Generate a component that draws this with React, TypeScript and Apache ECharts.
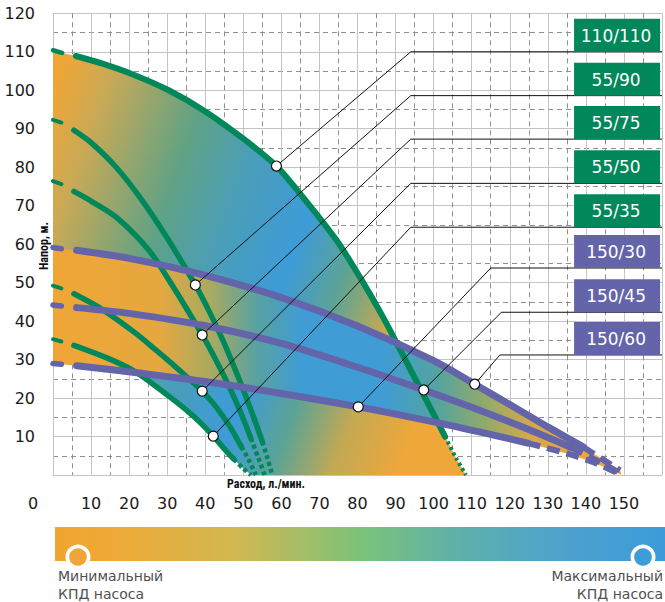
import React, { useEffect, useRef } from "react";
import * as echarts from "echarts";

type P = [number, number];

// ---- Pump curves (flow l/min, head m) ----
const p110Head: P[] = [[0, 110.4], [2.4, 109.7]];
const p110Main: P[] = [[6, 108.9], [13, 106.9], [21, 104.1], [30.4, 100], [40, 94.5], [50, 87.4], [58.7, 80.3], [66, 71.8], [74.5, 61], [81.5, 50], [87, 40.5], [92, 31], [97, 21.5], [103, 10]];
const p110Tail: P[] = [[103, 10], [106, 4.2], [108.5, 0]];

const p90Head: P[] = [[0, 92.3], [2.2, 91.6]];
const p90Main: P[] = [[5.5, 89.6], [10, 86.4], [16.6, 80], [23.4, 71.4], [30, 61.6], [37.4, 49.4], [41, 42.6], [45, 34.2], [49, 24.6], [52.5, 15.6], [55, 8.6]];
const p90Tail: P[] = [[55, 8.6], [56.3, 4.5], [57.6, 0]];

const p75Head: P[] = [[0, 76.4], [2.2, 75.6]];
const p75Main: P[] = [[5.5, 73.7], [10, 71.2], [16.6, 67], [25.2, 58.4], [31.2, 49.5], [39.2, 36.4], [43, 29.5], [46.5, 22.5], [49.5, 15.8], [52, 9.5]];
const p75Tail: P[] = [[52, 9.5], [54, 4.3], [55.6, 0]];

const p50Head: P[] = [[0, 49.2], [2.2, 48.5]];
const p50Main: P[] = [[5.5, 47.1], [13, 43], [21.5, 37], [27, 32.5], [33, 27.4], [39.2, 21.8], [43, 17.5], [46.5, 12.5], [49.5, 7.3]];
const p50Tail: P[] = [[49.5, 7.3], [51.5, 3.8], [53.3, 0]];

const p35Head: P[] = [[0, 35.3], [2.2, 34.7]];
const p35Main: P[] = [[5.5, 33.7], [14, 30.5], [20.8, 27.3], [26, 23.8], [31.2, 19.9], [35.6, 16.4], [38.5, 13.8], [42.1, 10.1], [45, 6.8], [47.5, 4.1]];
const p35Tail: P[] = [[47.5, 4.1], [50, 1.7], [52, 0]];

const p60Head: P[] = [[0, 59.1], [2.2, 58.8]];
const p60Main: P[] = [[6.2, 58.4], [20, 56.3], [40, 51.9], [60, 46.1], [80, 38.7], [100, 29.7], [110.8, 23.6], [120, 18.3], [130, 12.5], [139.3, 7.3]];
const p60Tail: P[] = [[139.3, 7.3], [144.2, 4.2], [149, 1.2]];

const p45Head: P[] = [[0, 44.2], [2.2, 43.9]];
const p45Main: P[] = [[6.2, 43.5], [20, 42], [40, 38.8], [60, 34.2], [80, 28], [97.4, 22.1], [110, 17.6], [125, 11.8], [136, 7.2]];
const p45Tail: P[] = [[136, 7.2], [142, 4.2], [149.2, 0.4]];

const p30Head: P[] = [[0, 29], [2.2, 28.8]];
const p30Main: P[] = [[6.2, 28.4], [22.6, 26.5], [40, 24.3], [60, 21.2], [80.2, 17.7], [100, 13.8], [116, 10.3], [124.7, 8.3]];
const p30Tail: P[] = [[124.7, 8.3], [135, 5.6], [142, 3.3], [149.4, 0]];

// ---- Legend boxes / leaders ----
const boxLabels = ["110/110", "55/90", "55/75", "55/50", "55/35", "150/30", "150/45", "150/60"];
const circlePts: P[] = [[58.7, 80.3], [37.4, 49.4], [39.2, 36.4], [39.2, 21.8], [42.1, 10.1], [80.2, 17.7], [97.4, 22.1], [110.8, 23.6]];
const kneeX = [94, 94, 94, 94, 94, 115, 117.8, 117.4];
const kneeY = [110, 98.6, 87.3, 75.8, 64.4, 53.8, 42.3, 31.2];
const boxLeftX = 136.9;

const GREEN = "#00875A";
const PURPLE = "#6464AA";
const TICK_FONT = "'DejaVu Sans', sans-serif";
const NARROW_FONT = "'Liberation Sans Narrow', 'Roboto Condensed', Roboto, sans-serif";

const join = (...parts: P[][]): P[] => parts.reduce((a, b) => a.concat(b), [] as P[]);

const all110 = join(p110Head, p110Main, p110Tail);
const all35 = join(p35Head, p35Main, p35Tail);
const all60 = join(p60Head, p60Main, p60Tail);
const all30 = join(p30Head, p30Main, p30Tail);

const greenPoly: P[] = [...all110, ...all35.slice().reverse()];
const bandPoly: P[] = [...all60, ...all30.slice().reverse()];

const greenStops = [
  { offset: 0, color: "#F0A636" },
  { offset: 0.11, color: "#C9A956" },
  { offset: 0.32, color: "#5FA285" },
  { offset: 0.46, color: "#4A9EB8" },
  { offset: 0.62, color: "#3D9BD8" },
  { offset: 0.74, color: "#5DA394" },
  { offset: 0.86, color: "#C2A954" },
  { offset: 1, color: "#EFA73A" },
];
const bandStops = [
  { offset: 0, color: "#F0A636" },
  { offset: 0.2, color: "#E5A840" },
  { offset: 0.3, color: "#A6AA62" },
  { offset: 0.38, color: "#5AA2A0" },
  { offset: 0.47, color: "#3F9CD4" },
  { offset: 0.62, color: "#3F9CD4" },
  { offset: 0.72, color: "#52A3A2" },
  { offset: 0.81, color: "#8FAA6C" },
  { offset: 0.9, color: "#D4A84C" },
  { offset: 1, color: "#F0A636" },
];

function polygonSeries(points: P[], gFrom: P, gTo: P, stops: any[], z: number) {
  return {
    type: "custom",
    data: [[0, 0]],
    silent: true,
    clip: false,
    z,
    renderItem: (_params: any, api: any) => {
      const pts = points.map((p) => api.coord(p));
      const a = api.coord(gFrom);
      const b = api.coord(gTo);
      return {
        type: "polygon",
        shape: { points: pts },
        style: {
          fill: new echarts.graphic.LinearGradient(a[0], a[1], b[0], b[1], stops, true),
          stroke: null,
        },
      };
    },
  };
}

function lineSeries(data: P[], color: string, width: number, type: any, z: number, cap = "round") {
  return {
    type: "line",
    data,
    symbol: "none",
    showSymbol: false,
    smooth: 0.3,
    silent: true,
    z,
    lineStyle: { color, width, type, cap },
  };
}

export default function App() {
  const ref = useRef<HTMLDivElement>(null);

  useEffect(() => {
    if (!ref.current) return;
    const chart = echarts.init(ref.current, undefined, { renderer: "svg" });

    const curveDefs = [
      { h: p110Head, m: p110Main, t: p110Tail, c: GREEN, w: 6, d: [3, 3], tw: 4 },
      { h: p90Head, m: p90Main, t: p90Tail, c: GREEN, w: 5.5, d: [4, 3], tw: 4.5 },
      { h: p75Head, m: p75Main, t: p75Tail, c: GREEN, w: 5.5, d: [4, 3], tw: 4.5 },
      { h: p50Head, m: p50Main, t: p50Tail, c: GREEN, w: 5.5, d: [4, 3], tw: 4.5 },
      { h: p35Head, m: p35Main, t: p35Tail, c: GREEN, w: 5.5, d: [4, 3], tw: 4.5 },
      { h: p60Head, m: p60Main, t: p60Tail, c: PURPLE, w: 7, d: [13, 7], tw: 6 },
      { h: p45Head, m: p45Main, t: p45Tail, c: PURPLE, w: 7, d: [13, 7], tw: 6 },
      { h: p30Head, m: p30Main, t: p30Tail, c: PURPLE, w: 7, d: [13, 7], tw: 6 },
    ];

    const series: any[] = [
      polygonSeries(greenPoly, [5.8, 116.4], [118.4, 76.5], greenStops, 1),
      polygonSeries(bandPoly, [0, 30], [139.5, 30], bandStops, 2),
    ];
    curveDefs.forEach((cd) => {
      series.push(lineSeries(cd.h, cd.c, cd.w - 1.5, "solid", 3));
      series.push(lineSeries(cd.m, cd.c, cd.w, "solid", 3));
      series.push(lineSeries(cd.t, cd.c, cd.tw, cd.d, 3, "butt"));
    });
    circlePts.forEach((cp, i) => {
      series.push({
        type: "line",
        data: [cp, [kneeX[i], kneeY[i]], [160, kneeY[i]]],
        symbol: "none",
        silent: true,
        z: 5,
        lineStyle: { color: "#111", width: 1 },
      });
    });
    series.push({
      type: "scatter",
      data: circlePts,
      symbol: "circle",
      symbolSize: 10,
      silent: true,
      z: 6,
      itemStyle: { color: "#fff", borderColor: "#111", borderWidth: 1.2, opacity: 1 },
    });
    series.push({
      type: "custom",
      data: boxLabels.map((_l, i) => [boxLeftX, kneeY[i], i]),
      silent: true,
      clip: false,
      z: 7,
      renderItem: (_params: any, api: any) => {
        const i = api.value(2);
        const p = api.coord([api.value(0), api.value(1)]);
        return {
          type: "group",
          children: [
            {
              type: "rect",
              shape: { x: p[0], y: p[1] - 33, width: 86, height: 33 },
              style: { fill: i < 5 ? GREEN : PURPLE },
            },
            {
              type: "text",
              x: p[0] + 42,
              y: p[1] - 16,
              style: {
                text: boxLabels[i],
                fill: "#fff",
                fontSize: 17,
                fontFamily: TICK_FONT,
                align: "center",
                verticalAlign: "middle",
              },
            },
          ],
        };
      },
    });

    const gridLine = { color: "#c4c4c4", width: 1 };
    const dashLine = { color: "#8f8f8f", width: 1, type: [5, 4] };

    chart.setOption({
      animation: false,
      grid: { left: 53, top: 13.3, width: 615.7, height: 461.7 },
      xAxis: {
        type: "value",
        min: 0,
        max: 160,
        interval: 10,
        axisLine: { show: true, lineStyle: { color: "#c4c4c4" } },
        axisTick: { show: false },
        axisLabel: {
          margin: 20,
          fontSize: 16,
          fontFamily: TICK_FONT,
          color: "#1a1a1a",
          formatter: (v: number) => (v === 0 || v > 150 ? "" : String(v)),
        },
        splitLine: { show: true, lineStyle: gridLine },
        minorTick: { show: false, splitNumber: 2 },
        minorSplitLine: { show: true, lineStyle: dashLine },
      },
      yAxis: {
        type: "value",
        min: 0,
        max: 120,
        interval: 10,
        axisLine: { show: true, lineStyle: { color: "#c4c4c4" } },
        axisTick: { show: false },
        axisLabel: {
          margin: 18,
          fontSize: 16,
          fontFamily: TICK_FONT,
          color: "#1a1a1a",
          formatter: (v: number) => (v === 0 ? "" : String(v)),
        },
        splitLine: { show: true, lineStyle: gridLine },
        minorTick: { show: false, splitNumber: 2 },
        minorSplitLine: { show: true, lineStyle: dashLine },
      },
      series,
      graphic: [
        {
          type: "text",
          x: 33,
          y: 503,
          style: { text: "0", fontSize: 16, fontFamily: TICK_FONT, fill: "#1a1a1a", align: "center", verticalAlign: "middle" },
        },
        {
          type: "text",
          x: 44,
          y: 246,
          rotation: Math.PI / 2,
          z: 20,
          style: { text: "Напор, м.", fontSize: 12, fontWeight: "bold", fontFamily: NARROW_FONT, fill: "#111", align: "center", verticalAlign: "middle" },
        },
        {
          type: "text",
          x: 227,
          y: 484,
          z: 20,
          style: { text: "Расход, л./мин.", fontSize: 12, fontWeight: "bold", fontFamily: NARROW_FONT, fill: "#111", align: "left", verticalAlign: "middle" },
        },
        {
          type: "rect",
          shape: { x: 55, y: 527, width: 612, height: 34 },
          style: {
            fill: new echarts.graphic.LinearGradient(0, 0, 1, 0, [
              { offset: 0, color: "#F2A531" },
              { offset: 0.1, color: "#EEA936" },
              { offset: 0.3, color: "#D0B852" },
              { offset: 0.5, color: "#7BC37A" },
              { offset: 0.66, color: "#5EB0AA" },
              { offset: 0.82, color: "#4FA3CC" },
              { offset: 1, color: "#3C9BDA" },
            ]),
          },
        },
        { type: "circle", shape: { cx: 78, cy: 557, r: 12.5 }, style: { fill: "#fff" } },
        { type: "circle", shape: { cx: 78, cy: 557, r: 8.8 }, style: { fill: "#F0A538" } },
        { type: "circle", shape: { cx: 643, cy: 557, r: 12.5 }, style: { fill: "#fff" } },
        { type: "circle", shape: { cx: 643, cy: 557, r: 8.8 }, style: { fill: "#3E9CD8" } },
        {
          type: "text",
          x: 58,
          y: 576,
          style: { text: "Минимальный", fontSize: 14, fontFamily: TICK_FONT, fill: "#505050", align: "left", verticalAlign: "middle" },
        },
        {
          type: "text",
          x: 58,
          y: 594,
          style: { text: "КПД насоса", fontSize: 14, fontFamily: TICK_FONT, fill: "#505050", align: "left", verticalAlign: "middle" },
        },
        {
          type: "text",
          x: 663,
          y: 576,
          style: { text: "Максимальный", fontSize: 14, fontFamily: TICK_FONT, fill: "#505050", align: "right", verticalAlign: "middle" },
        },
        {
          type: "text",
          x: 663,
          y: 594,
          style: { text: "КПД насоса", fontSize: 14, fontFamily: TICK_FONT, fill: "#505050", align: "right", verticalAlign: "middle" },
        },
      ],
    });

    return () => chart.dispose();
  }, []);

  return (
    <div
      ref={ref}
      style={{ position: "absolute", left: 0, top: 0, width: 665, height: 602, background: "#fff" }}
    />
  );
}
